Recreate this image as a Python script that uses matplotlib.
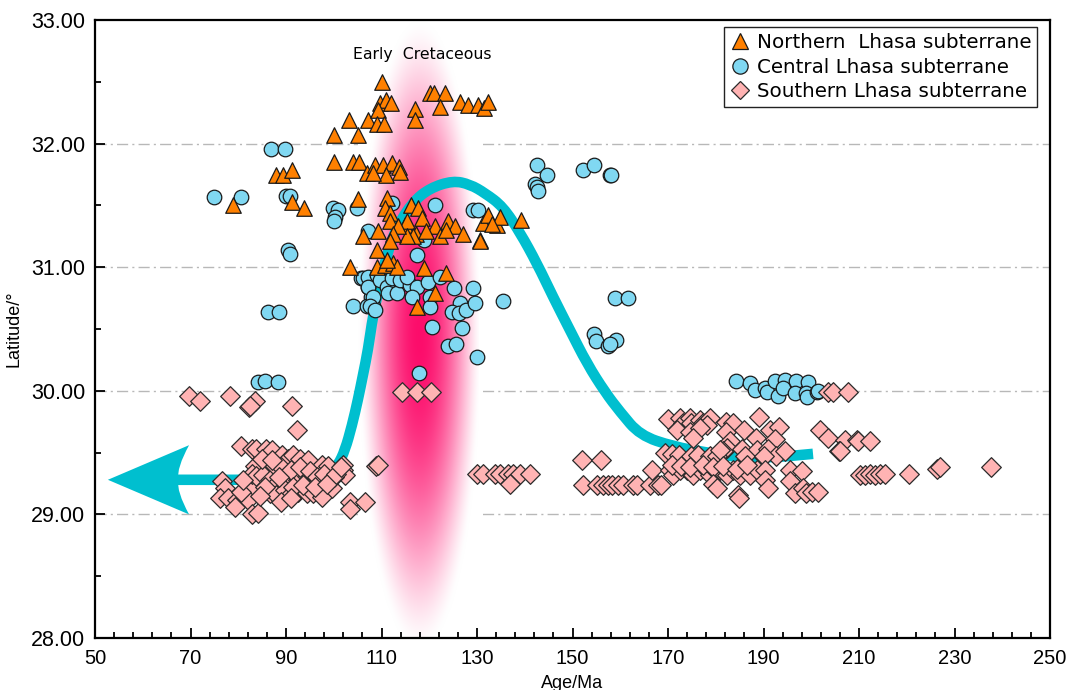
import numpy as np
import matplotlib
matplotlib.use("Agg")
import matplotlib.pyplot as plt
from matplotlib.path import Path
from matplotlib.patches import PathPatch
from matplotlib.lines import Line2D
from matplotlib.ticker import MultipleLocator, FormatStrFormatter

plt.rcParams['font.family'] = ['Liberation Sans', 'DejaVu Sans']

# ---------------- data ----------------
north_x = [78.9, 88.0, 89.4, 91.3, 91.2, 93.8, 100.1, 103.2, 105.1, 107.2,
           100.1, 104.1, 105.3, 106.9, 105.1, 106.2, 103.4,
           110.2, 109.7, 110.9, 112.0, 109.2, 109.0, 110.6, 117.0, 117.1,
           120.2, 121.0, 123.2, 122.3, 126.4, 128.2, 130.3, 131.5, 132.4,
           108.6, 110.4, 112.1, 113.7, 113.9, 110.9, 108.3,
           111.1, 110.7, 116.2, 117.7, 118.4, 111.8, 111.8, 114.9, 115.3,
           117.3, 116.7, 115.3, 113.5, 112.5, 109.3, 111.8, 109.0,
           121.2, 119.4, 122.3, 124.0, 125.4, 127.1, 123.6, 130.6,
           131.3, 132.3, 134.1, 134.8, 139.3, 133.1, 130.6,
           109.0, 110.7, 112.5, 113.2, 111.1, 118.9, 123.6, 121.2, 117.4]
north_y = [31.50, 31.75, 31.75, 31.79, 31.53, 31.48, 32.07, 32.19, 32.07, 32.19,
           31.85, 31.85, 31.85, 31.76, 31.55, 31.25, 31.00,
           32.50, 32.33, 32.35, 32.33, 32.27, 32.16, 32.16, 32.28, 32.19,
           32.41, 32.41, 32.41, 32.30, 32.34, 32.31, 32.31, 32.29, 32.34,
           31.83, 31.83, 31.84, 31.81, 31.77, 31.75, 31.76,
           31.56, 31.48, 31.50, 31.48, 31.40, 31.44, 31.37, 31.34, 31.37,
           31.27, 31.25, 31.25, 31.33, 31.27, 31.29, 31.21, 31.14,
           31.33, 31.29, 31.25, 31.37, 31.33, 31.27, 31.30, 31.22,
           31.36, 31.42, 31.34, 31.41, 31.38, 31.35, 31.21,
           31.00, 31.02, 31.03, 31.00, 31.06, 30.99, 30.95, 30.79, 30.68]

central_x = [74.9, 80.5, 86.9, 89.8, 90.1, 90.8, 90.5, 90.8, 86.3, 88.5,
             99.9, 100.9, 100.3, 100.1, 104.8, 104.1, 107.2,
             105.8, 107.2, 107.1, 107.9, 106.9, 108.3,
             84.2, 85.5, 88.4,
             106.2, 107.2, 109.0, 107.2, 108.3, 107.6, 108.6, 109.7, 111.1,
             111.4, 113.2, 112.1, 113.9, 116.0, 115.3, 117.4, 116.3, 120.2,
             120.2, 120.5, 119.8, 122.3, 125.2, 129.2, 126.4, 124.7, 126.3,
             127.8, 129.6, 126.8, 124.0, 125.6, 129.9, 117.9, 117.4, 135.5,
             121.2, 129.2, 130.3, 112.3, 118.8,
             142.5, 144.6, 142.1, 142.5, 142.8, 152.1, 154.5, 157.9, 158.1,
             159.0, 161.7, 154.4, 154.9, 157.5, 159.1, 157.8,
             184.2, 187.1, 188.2, 190.3, 190.7, 192.4, 194.5, 196.9, 199.4,
             193.1, 194.1, 196.6, 199.0, 199.2, 201.1, 201.5]
central_y = [31.57, 31.57, 31.96, 31.96, 31.58, 31.58, 31.14, 31.11, 30.64, 30.64,
             31.48, 31.46, 31.41, 31.37, 31.48, 30.69, 31.29,
             30.91, 30.91, 30.84, 30.76, 30.69, 30.69,
             30.07, 30.08, 30.07,
             30.91, 30.92, 30.94, 30.84, 30.76, 30.69, 30.65, 30.90, 30.84,
             30.79, 30.79, 30.91, 30.90, 30.86, 30.92, 30.84, 30.76, 30.76,
             30.68, 30.52, 30.88, 30.92, 30.83, 30.83, 30.71, 30.64, 30.63,
             30.65, 30.71, 30.51, 30.36, 30.38, 30.27, 30.14, 31.10, 30.73,
             31.50, 31.46, 31.46, 31.52, 31.22,
             31.83, 31.75, 31.67, 31.65, 31.62, 31.79, 31.83, 31.75, 31.75,
             30.75, 30.75, 30.46, 30.40, 30.36, 30.41, 30.38,
             30.08, 30.06, 30.01, 30.02, 29.99, 30.08, 30.09, 30.08, 30.07,
             29.96, 30.02, 29.98, 29.98, 29.95, 29.99, 30.00]

south_x = [69.7, 72.0, 78.3, 82.3, 83.5, 82.5, 91.2, 92.4, 108.8, 109.3,
           76.5, 77.2, 76.2, 77.9, 79.7, 82.5, 82.1, 79.3, 82.8, 84.2,
           80.5, 82.8, 83.7, 85.9, 87.0,
           89.1, 90.5, 91.5, 92.9, 94.7, 97.5, 98.9, 102.0,
           83.5, 82.8, 83.8, 85.2,
           86.6, 88.0, 89.8, 90.8, 92.6, 94.3, 95.7,
           86.6, 88.0, 89.8, 90.8, 92.6, 94.3, 95.7, 97.5, 99.6,
           102.0, 102.4, 103.3, 103.3, 106.5,
           87.5, 89.0, 91.0, 93.0, 95.0, 96.5, 98.0, 100.0,
           85.0, 87.0, 88.5, 91.5, 93.5, 96.0, 98.5, 100.5, 101.5,
           89.0, 91.0, 85.5, 84.5, 80.5, 81.0,
           114.2, 117.5, 120.3,
           130.0, 131.3, 133.8, 134.8, 136.5, 137.5, 139.0, 141.1, 136.9,
           152.0, 156.0,
           152.2, 155.1, 156.4, 157.4, 158.3, 159.5, 160.6, 162.7, 163.5, 166.2, 167.9, 168.5,
           203.6, 204.6, 207.8,
           169.9, 172.5, 173.2, 174.6, 174.9, 176.6, 177.4, 178.8, 178.1, 171.8,
           174.6, 176.7, 175.3, 182.1, 183.7, 182.1, 185.9, 189.1, 191.4, 193.3,
           188.4, 192.4, 183.0, 182.4, 181.6, 185.4, 188.6, 191.0, 192.7, 194.5,
           186.1, 190.0, 169.4, 170.8, 172.2, 174.9, 176.3, 178.8, 180.2, 180.9,
           166.6,
           170.4, 171.1, 172.5, 173.9, 175.3, 176.7, 178.1, 178.8, 179.8, 180.9,
           182.3, 183.7, 185.1, 187.2, 188.6, 190.3,
           170.9, 172.8, 174.6, 177.4, 179.4, 181.6, 184.4, 186.5,
           195.5, 198.0, 195.5, 190.3, 179.5, 180.2, 184.7, 184.9, 191.0,
           196.6, 198.3, 199.0, 200.1, 201.5,
           201.8, 203.6, 207.1, 209.6, 205.9, 209.8, 212.4, 206.0,
           210.2, 211.3, 212.3, 213.4, 214.4, 215.4, 220.5, 226.3, 227.0, 237.6]
south_y = [29.96, 29.92, 29.96, 29.87, 29.92, 29.88, 29.88, 29.68, 29.39, 29.40,
           29.27, 29.21, 29.13, 29.13, 29.12, 29.21, 29.12, 29.06, 29.00, 29.01,
           29.55, 29.53, 29.53, 29.53, 29.52,
           29.48, 29.45, 29.48, 29.45, 29.44, 29.40, 29.39, 29.40,
           29.39, 29.33, 29.31, 29.32,
           29.28, 29.25, 29.31, 29.27, 29.28, 29.31, 29.27,
           29.17, 29.16, 29.20, 29.16, 29.18, 29.17, 29.17, 29.14, 29.21,
           29.36, 29.32, 29.10, 29.04, 29.10,
           29.40, 29.38, 29.36, 29.38, 29.35, 29.30, 29.33, 29.30,
           29.45, 29.44, 29.30, 29.22, 29.24, 29.22, 29.25, 29.33, 29.38,
           29.10, 29.13, 29.22, 29.15, 29.18, 29.28,
           29.99, 29.99, 29.99,
           29.33, 29.33, 29.33, 29.33, 29.33, 29.33, 29.33, 29.33, 29.25,
           29.44, 29.44,
           29.24, 29.24, 29.24, 29.24, 29.24, 29.24, 29.24, 29.24, 29.24, 29.24, 29.24, 29.24,
           29.99, 29.99, 29.99,
           29.77, 29.78, 29.74, 29.78, 29.74, 29.76, 29.74, 29.78, 29.72, 29.68,
           29.67, 29.70, 29.62, 29.75, 29.74, 29.67, 29.68, 29.79, 29.68, 29.71,
           29.62, 29.61, 29.59, 29.54, 29.51, 29.53, 29.52, 29.53, 29.47, 29.51,
           29.47, 29.47, 29.50, 29.49, 29.48, 29.47, 29.48, 29.47, 29.47, 29.52,
           29.36,
           29.36, 29.32, 29.36, 29.36, 29.32, 29.36, 29.36, 29.32, 29.36, 29.36,
           29.32, 29.36, 29.32, 29.32, 29.36, 29.36,
           29.40, 29.39, 29.38, 29.40, 29.38, 29.39, 29.37, 29.40,
           29.36, 29.35, 29.27, 29.28, 29.25, 29.21, 29.16, 29.13, 29.21,
           29.17, 29.21, 29.17, 29.18, 29.18,
           29.68, 29.62, 29.60, 29.60, 29.51, 29.59, 29.59, 29.51,
           29.32, 29.32, 29.33, 29.32, 29.33, 29.33, 29.33, 29.37, 29.38, 29.38]

# trend curve: control points
curve_x = [66.0, 82.46, 92.93, 97.12, 99.21, 100.89, 102.36, 103.82, 105.08,
           106.13, 107.17, 108.22, 109.48, 111.15, 113.25, 116.60, 120.16,
           124.97, 128.53, 131.68, 135.45, 139.01, 142.57, 145.92, 149.48,
           153.04, 156.81, 159.95, 164.14, 171.05, 178.17, 185.08, 191.99, 200.37]
curve_y = [29.28, 29.28, 29.28, 29.29, 29.33, 29.40, 29.52, 29.72, 29.93,
           30.13, 30.33, 30.61, 30.83, 31.11, 31.33, 31.53, 31.64,
           31.70, 31.67, 31.60, 31.49, 31.28, 31.03, 30.76, 30.49,
           30.22, 29.99, 29.83, 29.64, 29.55, 29.50, 29.46, 29.46, 29.49]

# arrow head geometry (data units)
arrow_tip = (52.7, 29.28)
arrow_back_x = 69.7
arrow_notch_x = 67.4
arrow_half = 0.28

# Early Cretaceous band
band_center = (118.0, 30.45)
band_half_w = 12.8
band_half_h = 2.55
band_extent = (105.1, 130.4, 28.0, 33.0)

legend_labels = ['Northern  Lhasa subterrane', 'Central Lhasa subterrane',
                 'Southern Lhasa subterrane']

# ---------------- figure ----------------
fig = plt.figure(figsize=(10.69, 6.90), dpi=100)
ax = fig.add_axes([95/1069, 52/690, 955/1069, 618/690])
ax.set_xlim(50, 250)
ax.set_ylim(28, 33)

# grid
for yv in [29, 30, 31, 32]:
    ax.axhline(yv, color='#b8b8b8', lw=1.0, ls=(0, (8, 3, 1.5, 3)), zorder=0.5)

# pink band image
nx, ny = 240, 480
x0, x1, y0, y1 = band_extent
gx = np.linspace(x0, x1, nx)
gy = np.linspace(y0, y1, ny)
GX, GY = np.meshgrid(gx, gy)
r2 = ((GX - band_center[0]) / band_half_w) ** 2 + ((GY - band_center[1]) / band_half_h) ** 2
w = np.clip(1 - r2, 0, 1) ** 1.5
pink = np.array([0.99, 0.05, 0.42])
img = np.ones((ny, nx, 3)) * (1 - w[..., None]) + pink * w[..., None]
ax.imshow(img, extent=band_extent, origin='lower', aspect='auto', zorder=1,
          interpolation='bilinear')

# trend curve (smoothed through the read control points)
cyan = '#00bfcf'
pts = list(zip(curve_x, curve_y))
verts = [pts[0]]
codes = [Path.MOVETO]
mid = lambda a, b: ((a[0] + b[0]) / 2, (a[1] + b[1]) / 2)
verts.append(mid(pts[0], pts[1])); codes.append(Path.LINETO)
for i in range(1, len(pts) - 1):
    verts += [pts[i], mid(pts[i], pts[i + 1])]
    codes += [Path.CURVE3, Path.CURVE3]
verts.append(pts[-1]); codes.append(Path.LINETO)
ax.add_patch(PathPatch(Path(verts, codes), facecolor='none', edgecolor=cyan,
                       lw=7.6, capstyle='butt', joinstyle='round', zorder=2))

tx, ty = arrow_tip
averts = [(tx, ty), (arrow_back_x, ty + arrow_half),
          (arrow_notch_x - 0.3, ty + arrow_half * 0.35), (arrow_notch_x, ty),
          (arrow_notch_x - 0.3, ty - arrow_half * 0.35), (arrow_back_x, ty - arrow_half),
          (tx, ty)]
acodes = [Path.MOVETO, Path.LINETO, Path.CURVE3, Path.CURVE3, Path.CURVE3, Path.CURVE3,
          Path.CLOSEPOLY]
ax.add_patch(PathPatch(Path(averts, acodes), facecolor=cyan, edgecolor='none', zorder=2))

# points
ax.scatter(central_x, central_y, s=110, marker='o', facecolor='#80d8f2',
           edgecolor='#1a1a1a', linewidth=0.9, zorder=3)
ax.scatter(south_x, south_y, s=100, marker='D', facecolor='#ffb3b3',
           edgecolor='#2a2a2a', linewidth=0.9, zorder=4)
ax.scatter(north_x, north_y, s=125, marker='^', facecolor='#ff8000',
           edgecolor='#1a1a1a', linewidth=0.9, zorder=5)

ax.text(118.5, 32.72, 'Early  Cretaceous', ha='center', va='center', fontsize=11.3,
        family='DejaVu Sans', zorder=6)

# axes styling
for sp in ax.spines.values():
    sp.set_linewidth(1.6)
    sp.set_zorder(7)
ax.xaxis.set_major_locator(MultipleLocator(20, offset=10))
ax.xaxis.set_minor_locator(MultipleLocator(4, offset=2))
ax.yaxis.set_major_locator(MultipleLocator(1))
ax.yaxis.set_minor_locator(MultipleLocator(0.5))
ax.yaxis.set_major_formatter(FormatStrFormatter('%.2f'))
ax.tick_params(which='both', direction='in', top=False, right=False, width=1.3)
ax.tick_params(which='major', length=7)
ax.tick_params(which='minor', length=4)
ax.tick_params(axis='x', which='major', labelsize=14.5, pad=8)
ax.tick_params(axis='y', which='major', labelsize=15.5, pad=7)
ax.set_xlabel('Age/Ma', fontsize=13, labelpad=5)
ax.set_ylabel('Latitude/°', fontsize=13, labelpad=6)

handles = [
    Line2D([], [], ls='none', marker='^', markersize=12, markerfacecolor='#ff8000',
           markeredgecolor='#1a1a1a', markeredgewidth=0.9),
    Line2D([], [], ls='none', marker='o', markersize=11, markerfacecolor='#80d8f2',
           markeredgecolor='#1a1a1a', markeredgewidth=0.9),
    Line2D([], [], ls='none', marker='D', markersize=9.5, markerfacecolor='#ffb3b3',
           markeredgecolor='#2a2a2a', markeredgewidth=0.9),
]
leg = ax.legend(handles, legend_labels, loc='upper right',
                bbox_to_anchor=(0.9864, 0.9887), borderaxespad=0,
                prop={'family': 'DejaVu Sans', 'size': 14.3},
                frameon=True, fancybox=False, edgecolor='#222222', framealpha=1,
                handletextpad=0.35, handlelength=1.0, borderpad=0.3,
                labelspacing=0.28)
leg.get_frame().set_linewidth(1.0)
leg.set_zorder(8)

fig.savefig('out.png', dpi=100)
